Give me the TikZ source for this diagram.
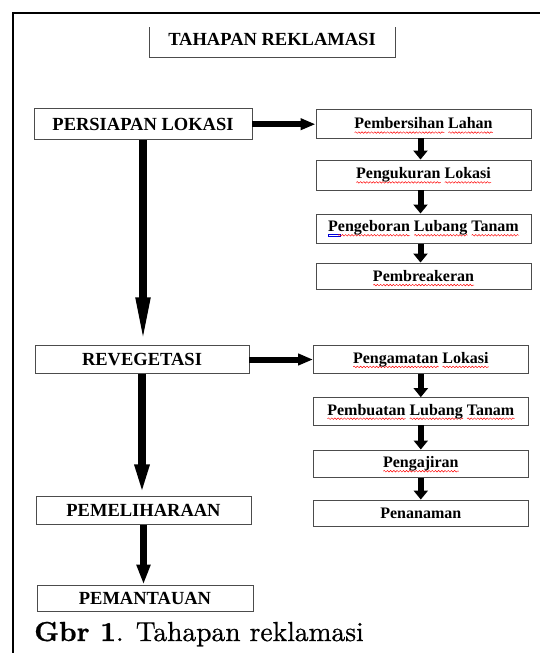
\documentclass[tikz,border=0pt]{standalone}
\usepackage{fontspec}
\usetikzlibrary{arrows.meta,decorations.pathmorphing}
\newfontfamily\boxfont{Liberation Serif}
\newfontfamily\capfont{lmroman10-regular.otf}[FakeBold=0.7, BoldFont=lmroman10-bold.otf, BoldFeatures={FakeBold=0.7}]
\newlength\sqlen
\newcommand\redwave[1]{\settowidth\sqlen{#1}\rlap{\smash{\tikz[baseline=0pt]\draw[red, line width=0.45pt, decorate, decoration={snake, amplitude=0.8pt, segment length=3.2pt}] (0pt,-3.6pt) -- (\sqlen,-3.6pt);}}#1}
\newcommand\bluemark{\rlap{\textcolor{blue!85!black}{\rule[-5pt]{12pt}{0.6pt}}}\rlap{\textcolor{blue!85!black}{\rule[-3pt]{12pt}{0.6pt}}}\rlap{\textcolor{blue!85!black}{\rule[-5pt]{0.6pt}{2.6pt}}}\rlap{\hspace{11.4pt}\textcolor{blue!85!black}{\rule[-5pt]{0.6pt}{2.6pt}}}}
\tikzset{
  boxline/.style={draw=black!70, line width=0.9pt},
  lbox/.style={boxline, inner sep=0pt, font=\boxfont\bfseries\fontsize{18.5}{20}\selectfont},
  rbox/.style={boxline, inner sep=0pt, font=\boxfont\bfseries\fontsize{16}{18}\selectfont},
  bigv/.style={line width=7.5pt, -{Triangle[length=#1,width=13pt]}},
  smallv/.style={line width=6pt, -{Triangle[length=9pt,width=14pt]}},
  bigh/.style={line width=6pt, -{Triangle[length=15pt,width=11pt]}},
}
\begin{document}
\begin{tikzpicture}[x=1pt,y=-1pt]
\useasboundingbox (0,0) rectangle (540,653);
% outer frame
\draw[line width=2pt] (12.5,653) -- (12.5,13) -- (540,13);
% title
\node[inner sep=0pt, font=\boxfont\bfseries\fontsize{18.5}{20}\selectfont] (title) at (272,39) {TAHAPAN REKLAMASI};
\draw[boxline] (149,27) -- (149,57) -- (395,57) -- (395,27);
% left column
\node[lbox, minimum width=218pt, minimum height=31pt] (persiapan) at (143,124.2) {PERSIAPAN LOKASI};
\node[lbox, minimum width=214pt, minimum height=27.6pt] (reveg) at (142,359.5) {REVEGETASI};
\node[lbox, minimum width=215pt, minimum height=27.3pt] (pemel) at (143.5,510.4) {PEMELIHARAAN};
\node[lbox, minimum width=216pt, minimum height=26pt] (pemant) at (145,598) {PEMANTAUAN};
% right column, group 1
\node[rbox, minimum width=215pt, minimum height=29pt] (b1) at (423.5,123.5) {\redwave{Pembersihan} \redwave{Lahan}\hspace{5pt}};
\node[rbox, minimum width=215pt, minimum height=30pt] (b2) at (423.5,175) {\redwave{Pengukuran} \redwave{Lokasi}\hspace{5pt}};
\node[rbox, minimum width=215pt, minimum height=29.3pt] (b3) at (423.5,228.6) {\bluemark P\redwave{engeboran} \redwave{Lubang} \redwave{Tanam}\hspace{5pt}};
\node[rbox, minimum width=215pt, minimum height=26pt] (b4) at (423.5,276) {\redwave{Pembreakeran}\hspace{5pt}};
% right column, group 2
\node[rbox, minimum width=214.5pt, minimum height=27.6pt] (c1) at (420.8,359.5) {\redwave{Pengamatan} \redwave{Lokasi}};
\node[rbox, minimum width=214.5pt, minimum height=27.3pt] (c2) at (420.8,411.3) {\redwave{Pembuatan} \redwave{Lubang} \redwave{Tanam}};
\node[rbox, minimum width=214.5pt, minimum height=27.7pt] (c3) at (420.8,463.8) {\redwave{Pengajiran}};
\node[rbox, minimum width=214.5pt, minimum height=26pt] (c4) at (420.8,513) {Penanaman};
% connectors
\draw[bigv=48pt] (persiapan.south) -- (persiapan.south |- reveg.north);
\draw[bigv=32pt] (reveg.south) -- (reveg.south |- pemel.north);
\draw[bigv=20pt] (pemel.south) -- (pemel.south |- pemant.north);
\draw[bigh] (persiapan.east) -- (persiapan.east -| b1.west);
\draw[bigh] (reveg.east) -- (reveg.east -| c1.west);
\draw[smallv] ([xshift=-3pt]b1.south) -- ([xshift=-3pt]b2.north);
\draw[smallv] ([xshift=-3pt]b2.south) -- ([xshift=-3pt]b3.north);
\draw[smallv] ([xshift=-3pt]b3.south) -- ([xshift=-3pt]b4.north);
\draw[smallv] (c1.south) -- (c2.north);
\draw[smallv] (c2.south) -- (c3.north);
\draw[smallv] (c3.south) -- (c4.north);
% caption
\node[anchor=base west, inner sep=0pt, font=\capfont\fontsize{27.5}{32}\selectfont] (cap) at (34,641) {\textbf{Gbr 1}. Tahapan reklamasi};
\end{tikzpicture}
\end{document}
